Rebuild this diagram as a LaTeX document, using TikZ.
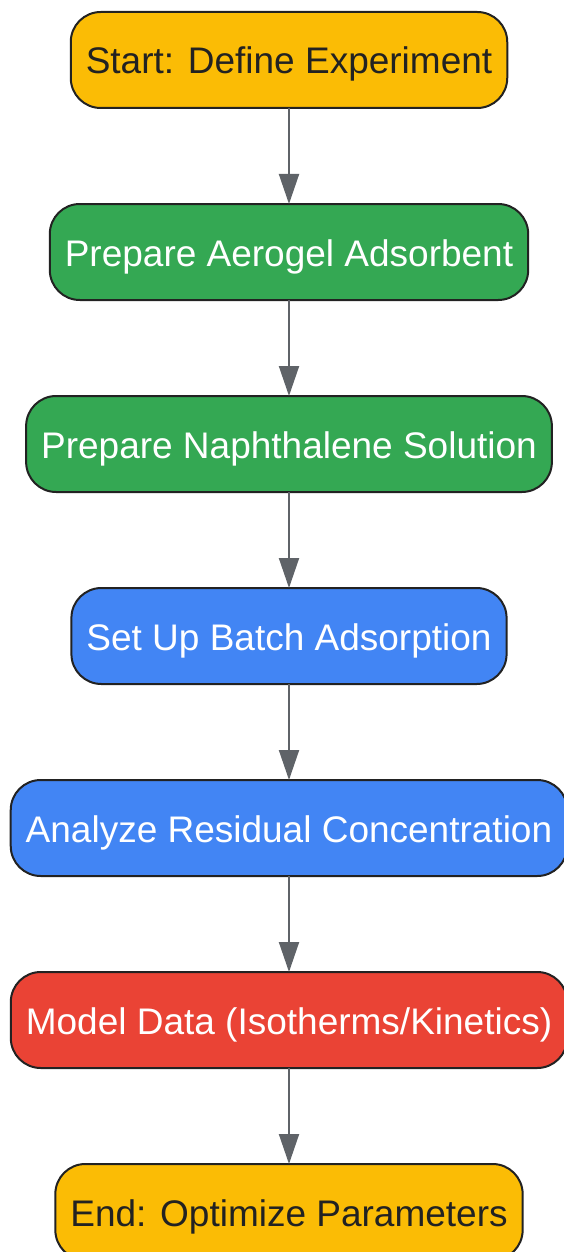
\documentclass[tikz,border=0pt]{standalone}
\usepackage{fontspec}
\setmainfont{Liberation Sans}
\usetikzlibrary{positioning,arrows.meta}
\definecolor{stepyellow}{HTML}{FBBC05}
\definecolor{stepgreen}{HTML}{34A853}
\definecolor{stepblue}{HTML}{4285F4}
\definecolor{stepred}{HTML}{EA4335}
\definecolor{textdark}{HTML}{222222}
\definecolor{flowgray}{HTML}{5F6368}
\begin{document}
\begin{tikzpicture}[x=1pt,y=1pt,>={Triangle[width=20pt,length=30pt]},line join=round,font=\fontsize{37}{44}\selectfont,node distance=96pt]
\tikzset{stepbox/.style={draw=textdark,line width=2pt,outer sep=0pt,rounded corners=30pt,minimum height=96pt,inner xsep=15pt,text height=28pt,text depth=0pt,text=white}}
\tikzset{flow/.style={->,draw=flowgray,fill=flowgray,line width=2pt}}
\useasboundingbox (0,0) rectangle (564,-1252);
\node[stepbox,fill=stepyellow,text=textdark] (start) at (289,-60) {Start: Define Experiment};
\node[stepbox,fill=stepgreen,below=of start] (aerogel) {Prepare Aerogel Adsorbent};
\node[stepbox,fill=stepgreen,below=of aerogel] (solution) {Prepare Naphthalene Solution};
\node[stepbox,fill=stepblue,below=of solution] (batch) {Set Up Batch Adsorption};
\node[stepbox,fill=stepblue,below=of batch] (analyze) {Analyze Residual Concentration};
\node[stepbox,fill=stepred,below=of analyze] (model) {Model Data (Isotherms/Kinetics)};
\node[stepbox,fill=stepyellow,text=textdark,below=of model] (finish) {End: Optimize Parameters};
\draw[flow] (start) -- (aerogel);
\draw[flow] (aerogel) -- (solution);
\draw[flow] (solution) -- (batch);
\draw[flow] (batch) -- (analyze);
\draw[flow] (analyze) -- (model);
\draw[flow] (model) -- (finish);
\end{tikzpicture}
\end{document}
